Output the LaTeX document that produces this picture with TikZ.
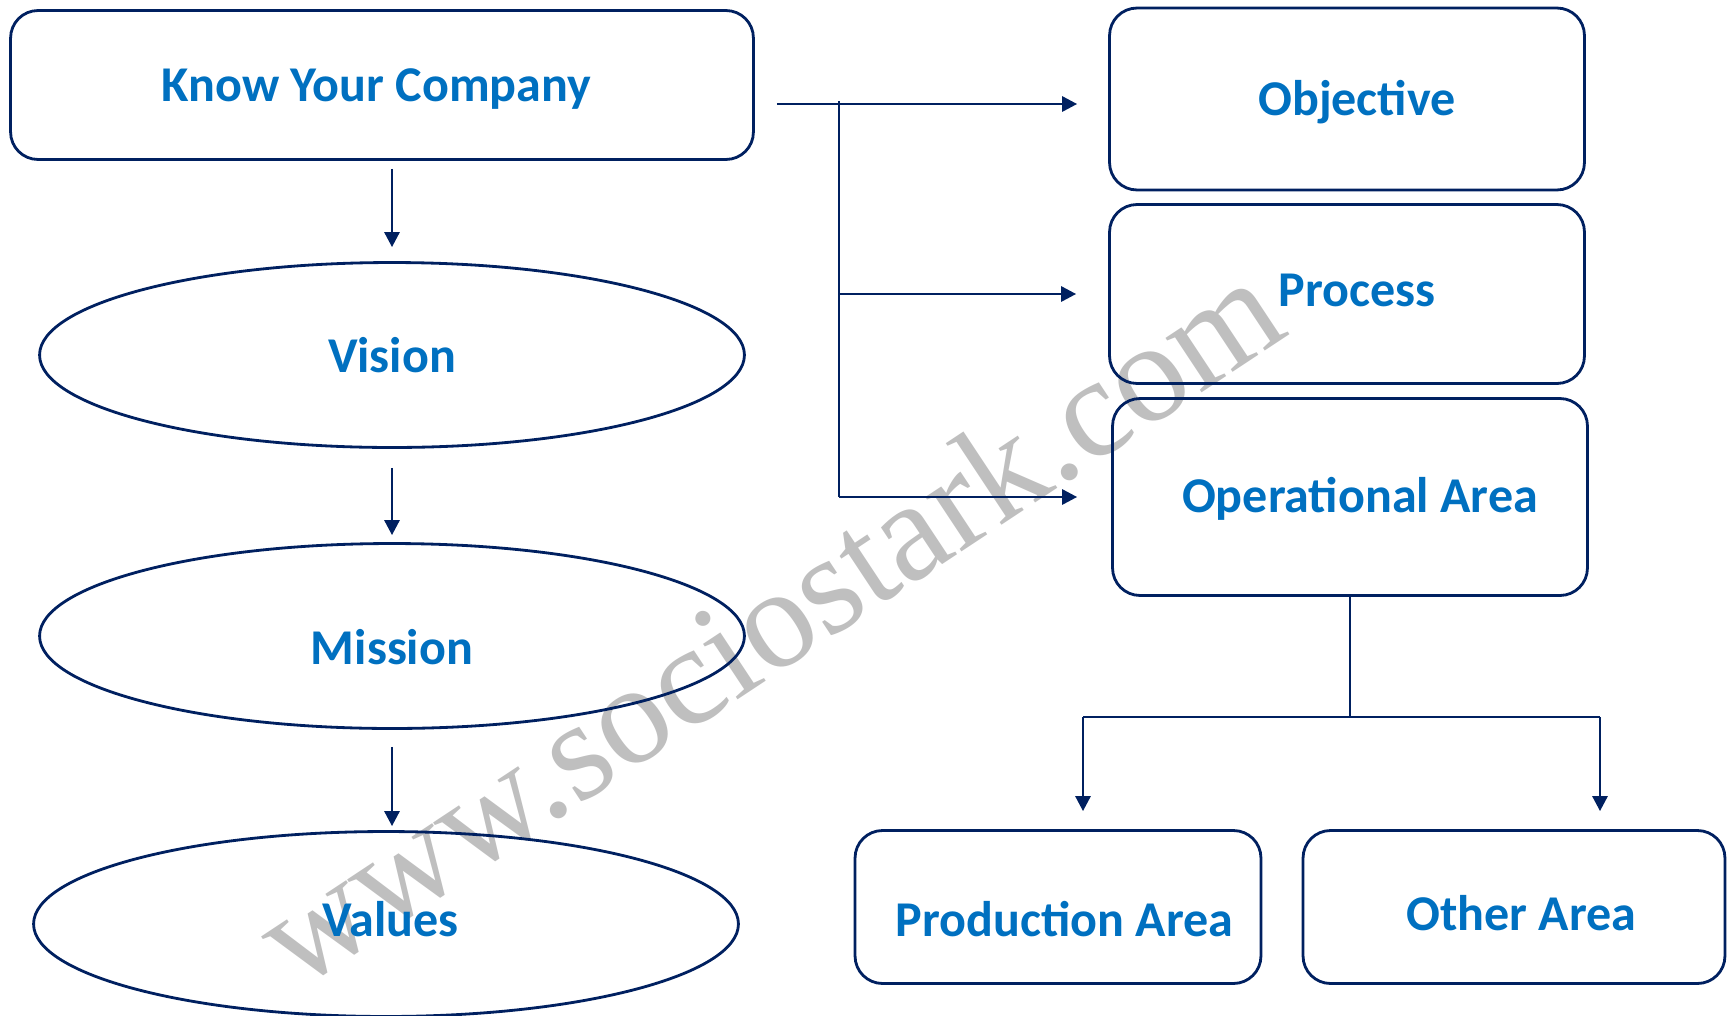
\documentclass[tikz,border=0pt]{standalone}
\usepackage{fontspec}
\setmainfont{Carlito}
\newfontfamily\markfont{Liberation Serif}
\usepackage{tikz}
\usetikzlibrary{shapes}
\usetikzlibrary{shapes.geometric}
\usetikzlibrary{arrows.meta}

\definecolor{linecol}{HTML}{002060}
\definecolor{textcol}{HTML}{0070C0}
\definecolor{markcol}{HTML}{BFBFBF}

\tikzset{
  lbl/.style={text=textcol, font=\fontsize{28.5}{34}\selectfont\bfseries},
  box/.style={draw=linecol, line width=1.6pt, rounded corners=0.55cm},
  oval/.style={draw=linecol, line width=1.6pt, ellipse, inner sep=0pt,
    minimum width=14.1cm, minimum height=3.7cm},
  conn/.style={draw=linecol, line width=1.6pt},
  arr/.style={conn, -{Triangle[length=0.3cm,width=0.3cm]}},
}

\begin{document}
\begin{tikzpicture}[x=0.02cm, y=-0.02cm]
\useasboundingbox (0,0) rectangle (1735,1015);

% watermark
\node[text=markcol, 
   font=\markfont\fontsize{81}{90}\selectfont, 
   rotate=33.5, anchor=base] (mark) at (795,662) 
  {www.sociostark.com};

% left column
\node[box, 
   minimum width=14.86cm, 
   minimum height=2.98cm, 
   label={[lbl, xshift=-0.11cm, yshift=-0.09cm]center:Know Your Company}] (kyc) at (382,85) {};
\node[oval, label={[lbl]center:Vision}] (vis) at (392,355) {};
\node[oval, label={[lbl, yshift=-0.22cm]center:Mission}] (mis) at (392,636) {};
\node[oval, label={[lbl, xshift=0.09cm, yshift=0.09cm]center:Values}] (val) at (386,924) {};

% right column
\node[box, 
   minimum width=9.5cm, 
   minimum height=3.64cm, 
   label={[lbl, xshift=0.2cm, yshift=-0.07cm]center:Objective}] (obj) at (1347,99) {};
\node[box, 
   minimum width=9.5cm, 
   minimum height=3.58cm, 
   label={[lbl, xshift=0.2cm, yshift=0.07cm]center:Process}] (proc) at (1347,294) {};
\node[box, 
   minimum width=9.5cm, 
   minimum height=3.94cm, 
   label={[lbl, xshift=0.2cm, yshift=-0.04cm]center:Operational Area}] (op) at (1350,497) {};
\node[box, 
   minimum width=8.12cm, 
   minimum height=3.06cm, 
   label={[lbl, xshift=0.13cm, yshift=-0.24cm]center:Production Area}] (prod) at (1058,907) {};
\node[box, 
   minimum width=8.44cm, 
   minimum height=3.06cm, 
   label={[lbl, xshift=0.15cm, yshift=-0.13cm]center:Other Area}] (other) at (1514,907) {};

\coordinate (jn) at (839,104);
\coordinate (lft) at (1083,717);
\coordinate (rgt) at (1600,717);

\draw[arr, shorten <=0.16cm, shorten >=0.28cm] (kyc.south -| vis.north) -- (vis.north);
\draw[arr, shorten <=0.38cm, shorten >=0.14cm] (vis.south) -- (mis.north);
\draw[arr, shorten <=0.34cm, shorten >=0.08cm] (mis.south) -- (mis.south |- val.north);

\draw[arr, shorten <=0.44cm, shorten >=0.62cm] (kyc.east |- jn) -- (obj.west |- jn);
\draw[conn] ([yshift=0.06cm]jn) -- (jn |- op.west);
\draw[arr, shorten >=0.64cm] (jn |- proc.west) -- (proc.west);
\draw[arr, shorten >=0.68cm] (jn |- op.west) -- (op.west);

\draw[conn] (op.south) -- (op.south |- lft);
\draw[conn] (lft) -- (rgt);
\draw[arr, shorten >=0.36cm] (lft) -- (lft |- prod.north);
\draw[arr, shorten >=0.36cm] (rgt) -- (rgt |- other.north);
\end{tikzpicture}
\end{document}
